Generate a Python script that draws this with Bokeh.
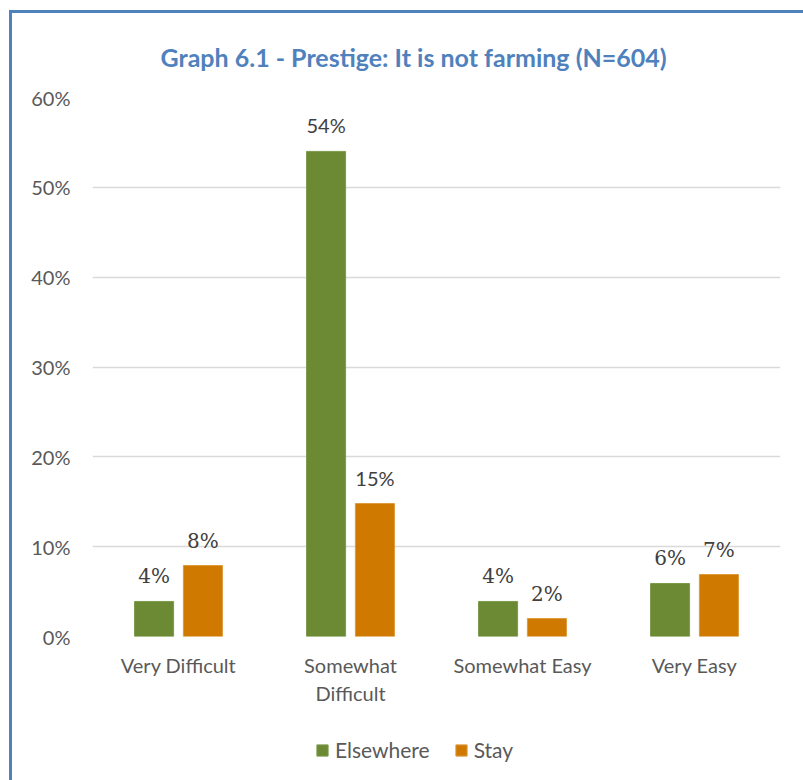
from bokeh.plotting import figure
from bokeh.layouts import column
from bokeh.models import (ColumnDataSource, FactorRange, Range1d, LabelSet, Legend,
                          LegendItem, PrintfTickFormatter, FixedTicker)
from bokeh.transform import dodge
from bokeh.embed import file_html
from bokeh.resources import INLINE

# ---- data ----
categories = ["Very Difficult", "Somewhat\nDifficult", "Somewhat Easy", "Very Easy"]
elsewhere = [3.9, 54.0, 3.9, 5.9]
stay = [7.9, 14.8, 2.0, 6.9]
elsewhere_labels = ["4%", "54%", "4%", "6%"]
stay_labels = ["8%", "15%", "2%", "7%"]
y_ticks = [0, 10, 20, 30, 40, 50, 60]
series_names = ["Elsewhere", "Stay"]
title_text = "Graph 6.1 - Prestige: It is not farming (N=604)"

# ---- styles ----
GREEN = "#6b8a33"
ORANGE = "#cf7900"
BLUE = "#4f81bd"
SANS = "Lato"
SERIF = "DejaVu Serif"
label_fonts = [SERIF, SANS, SERIF, SERIF]
label_sizes = ["20px", "20px", "20px", "20px"]

src = ColumnDataSource(dict(
    cat=categories, elsewhere=elsewhere, stay=stay,
    e_lab=elsewhere_labels, s_lab=stay_labels,
    font=label_fonts, size=label_sizes,
))

W = 791
LH = 64
H = 767 - LH
p = figure(x_range=FactorRange(*categories), y_range=Range1d(0, 60),
           width=W, height=H, output_backend="svg", toolbar_location=None,
           min_border_left=80, min_border_right=23, min_border_top=84,
           min_border_bottom=80)
p.outline_line_color = None
p.background_fill_color = "white"
p.border_fill_color = "white"

p.title.text = title_text
p.title.align = "left"
p.title.offset = 68
p.title.standoff = 52
p.title.text_font = SANS
p.title.text_font_size = "25px"
p.title.text_font_style = "bold"
p.title.text_color = BLUE

off = 0.142
bw = 0.227
r1 = p.vbar(x=dodge("cat", -off, range=p.x_range), top="elsewhere", width=bw, source=src,
            fill_color=GREEN, line_color="#7d9a4c", line_width=1)
r2 = p.vbar(x=dodge("cat", off, range=p.x_range), top="stay", width=bw, source=src,
            fill_color=ORANGE, line_color="#dc9a3c", line_width=1)

p.add_layout(LabelSet(x=dodge("cat", -off, range=p.x_range), y="elsewhere", text="e_lab",
                      source=src, y_offset=18, text_align="center", text_baseline="alphabetic",
                      text_font={"field": "font"}, text_font_size={"field": "size"},
                      text_color="#404040"))
p.add_layout(LabelSet(x=dodge("cat", off, range=p.x_range), y="stay", text="s_lab",
                      source=src, y_offset=18, text_align="center", text_baseline="alphabetic",
                      text_font={"field": "font"}, text_font_size={"field": "size"},
                      text_color="#404040"))

p.xgrid.grid_line_color = None
p.ygrid.grid_line_color = "#d9d9d9"
p.ygrid.grid_line_width = 1.5
p.yaxis.ticker = FixedTicker(ticks=y_ticks)
p.yaxis.formatter = PrintfTickFormatter(format="%d%%")

for ax in (p.xaxis[0], p.yaxis[0]):
    ax.axis_line_color = None
    ax.major_tick_line_color = None
    ax.minor_tick_line_color = None
    ax.major_tick_out = 0
    ax.major_tick_in = 0
    ax.major_label_text_font = SANS
    ax.major_label_text_font_size = "20px"
    ax.major_label_text_color = "#595959"

p.yaxis.major_label_standoff = 22
p.xaxis.major_label_standoff = 16

# legend strip below the chart: swatch renderers use the same data but sit outside
# this strip's visible y range, so only their legend glyphs show
leg = figure(width=W, height=LH, x_range=FactorRange(*categories), y_range=Range1d(100, 101),
             output_backend="svg", toolbar_location=None, min_border=0)
leg.outline_line_color = None
leg.axis.visible = False
leg.grid.visible = False
g1 = leg.vbar(x="cat", top="elsewhere", width=0.2, source=src,
              fill_color=GREEN, line_color="#7d9a4c")
g2 = leg.vbar(x="cat", top="stay", width=0.2, source=src,
              fill_color=ORANGE, line_color="#dc9a3c")
legend = Legend(items=[LegendItem(label=series_names[0], renderers=[g1]),
                       LegendItem(label=series_names[1], renderers=[g2])],
                orientation="horizontal", location=(223, 18),
                label_text_font=SANS, label_text_font_size="21px", label_text_color="#595959",
                glyph_width=14, glyph_height=14, label_standoff=6, spacing=24,
                border_line_color=None, background_fill_alpha=0, padding=0, margin=0)
leg.add_layout(legend, "center")

page = column(p, leg, spacing=0,
              styles={"margin-left": "9px", "margin-top": "10px",
                      "border-left": f"3px solid {BLUE}", "border-top": f"3px solid {BLUE}"})

open("out.html", "w").write(file_html(page, INLINE))
